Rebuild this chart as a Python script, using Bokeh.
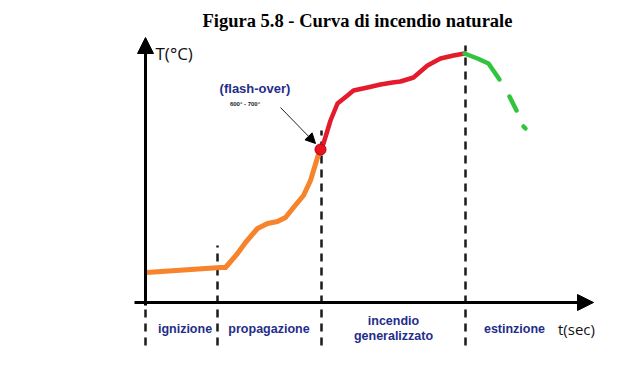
from bokeh.plotting import figure
from bokeh.models import Range1d, Arrow, NormalHead
from bokeh.core.properties import value
from bokeh.embed import file_html
from bokeh.resources import INLINE

# ---- data (t in arbitrary time units, T in arbitrary temperature units) ----
orange_t = [1, 75, 80, 92, 100, 112, 122, 132, 140, 148, 158, 165, 172, 175]
orange_T = [30, 35, 35, 49, 60, 74, 79, 81, 85, 95, 107, 122, 145, 153]

red_t = [175, 178, 185, 192, 202, 208, 222, 235, 247, 255, 268, 282, 295, 308, 319]
red_T = [153, 159, 182, 199, 207, 212, 215, 218, 220, 221, 225, 237, 244, 247, 249]

green_t = [[319, 332, 343, 354], [364, 371], [378, 380]]
green_T = [[249, 244, 239, 223], [206, 192], [176, 174]]

flash_t = [175]
flash_T = [153]

phase_t = [72, 176, 320, 0]
phase_top = [57, 172, 257, -3]
phase_bottom = [-43, -43, -43, -43]

phase_labels = ["ignizione", "propagazione", "incendio", "generalizzato", "estinzione"]
phase_label_t = [39.5, 123.5, 248, 248, 369]
phase_label_T = [-26, -26, -18, -33, -26]

title_text = "Figura 5.8 - Curva di incendio naturale"

p = figure(width=627, height=353, output_backend="svg", toolbar_location=None,
           x_range=Range1d(-145, 482), y_range=Range1d(-51, 302), min_border=0)
p.axis.visible = False
p.grid.visible = False
p.outline_line_color = None
p.background_fill_color = "white"
p.border_fill_color = "white"

# phase dashed lines
p.segment(x0=phase_t, y0=phase_bottom, x1=phase_t, y1=phase_top,
          line_color="#1a1a1a", line_width=2.5, line_dash="8 6")

# axes
p.add_layout(Arrow(x_start=-11, y_start=0, x_end=448, y_end=0, line_width=3,
                   line_color="black",
                   end=NormalHead(size=16, fill_color="black", line_color="black")))
p.add_layout(Arrow(x_start=0, y_start=-3, x_end=0, y_end=265, line_width=3,
                   line_color="black",
                   end=NormalHead(size=16, fill_color="black", line_color="black")))

# curves
p.line(orange_t, orange_T, line_color="#f7832c", line_width=5, line_join="round", line_cap="round")
p.line(red_t, red_T, line_color="#e41b2b", line_width=4.5, line_join="round", line_cap="round")
p.multi_line(green_t, green_T, line_color="#33c43d", line_width=4.5, line_join="round", line_cap="round")

# flash-over annotation arrow
p.add_layout(Arrow(x_start=135, y_start=195, x_end=170, y_end=159, line_width=1,
                   line_color="#222222",
                   end=NormalHead(size=10, fill_color="black", line_color="black")))
p.scatter(flash_t, flash_T, size=11, fill_color="#e8141e", line_color="#b00010", line_width=1)

# texts
p.text(x=[212], y=[282], text=[title_text], text_font=value("Liberation Serif"),
       text_font_style="bold", text_font_size="18.5px", text_align="center",
       text_baseline="middle", text_color="black")
p.text(x=[10], y=[249], text=["T(°C)"], text_font=value("Open Sans"),
       text_font_size="17px", text_align="left", text_baseline="middle", text_color="#111111")
p.text(x=[431], y=[-26], text=["t(sec)"], text_font=value("Open Sans"),
       text_font_size="15px", text_align="center", text_baseline="middle", text_color="#111111")
p.text(x=phase_label_t, y=phase_label_T, text=phase_labels, text_font=value("Liberation Sans"),
       text_font_style="bold", text_font_size="12.5px", text_align="center",
       text_baseline="middle", text_color="#1f2d8a")
p.text(x=[109.5], y=[214], text=["(flash-over)"], text_font=value("Liberation Sans"),
       text_font_style="bold", text_font_size="13px", text_align="center",
       text_baseline="middle", text_color="#1f2d8a")
p.text(x=[99.5], y=[199], text=["600° - 700°"], text_font=value("Liberation Sans"),
       text_font_style="bold", text_font_size="6px", text_align="center",
       text_baseline="middle", text_color="#222222")

open("out.html", "w").write(file_html(p, INLINE))
